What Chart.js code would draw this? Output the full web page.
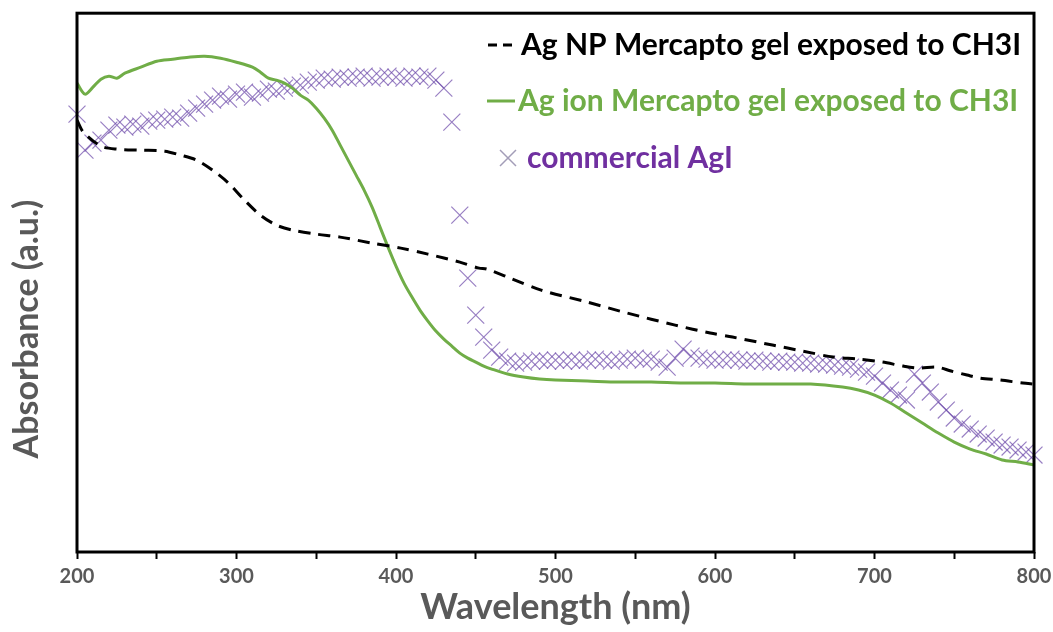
<!DOCTYPE html>
<html>
<head>
<meta charset="utf-8">
<script src="https://cdn.jsdelivr.net/npm/chart.js@4.4.0/dist/chart.umd.min.js"></script>
<style>
  html, body { margin: 0; padding: 0; background: #fff; }
  #wrap { width: 1053px; height: 632px; }
</style>
</head>
<body>
<div id="wrap"><canvas id="absChart"></canvas></div>
<script>
// absorbance in arbitrary units
const npWavelength = [200, 204, 215, 225, 240, 255, 265, 275, 285, 295, 305, 315, 325, 335, 350, 365, 385, 403, 420, 440, 452, 457, 470, 491, 520, 545, 575, 597, 611, 636, 655, 674, 690, 705, 718, 728, 739, 748, 758, 766, 779, 793, 800];
const npAbsorbance = [432, 420, 406, 403, 402, 401, 397, 392, 382, 369, 352, 337, 327, 322, 318, 315, 309, 304, 298, 290, 284, 283, 275, 262, 250, 239, 227, 219, 215, 207, 201, 195, 193, 190, 186, 184, 185, 181, 177, 174, 172, 169, 168];

const ionWavelength = [200, 205, 210, 215, 220, 225, 230, 240, 250, 260, 270, 280, 290, 300, 310, 315, 320, 325, 330, 335, 340, 345, 350, 355, 360, 365, 370, 375, 380, 385, 390, 395, 400, 405, 410, 415, 420, 425, 430, 435, 440, 445, 450, 455, 460, 470, 480, 490, 500, 520, 540, 560, 580, 600, 620, 640, 660, 680, 690, 700, 710, 720, 730, 740, 750, 760, 770, 780, 790, 800];
const ionAbsorbance = [469, 458, 465, 473, 476, 474, 479, 485, 491, 493, 495, 496, 494, 490, 485, 480, 474, 472, 469, 464, 457, 452, 444, 434, 422, 407, 392, 377, 362, 345, 325, 305, 286, 269, 255, 242, 231, 221, 213, 206, 199, 194, 190, 186, 183, 178, 175, 173, 172, 171, 170, 170, 169, 169, 168, 168, 168, 165, 162, 157, 149, 139, 129, 119, 110, 103, 98, 92, 90, 87];

const agiWavelength = [200, 205, 210, 215, 220, 225, 230, 235, 240, 245, 250, 255, 260, 265, 270, 275, 280, 285, 290, 295, 300, 305, 310, 315, 320, 325, 330, 335, 340, 345, 350, 355, 360, 365, 370, 375, 380, 385, 390, 395, 400, 405, 410, 415, 420, 425, 430, 435, 440, 445, 450, 455, 460, 465, 470, 475, 480, 485, 490, 495, 500, 505, 510, 515, 520, 525, 530, 535, 540, 545, 550, 555, 560, 565, 570, 575, 580, 585, 590, 595, 600, 605, 610, 615, 620, 625, 630, 635, 640, 645, 650, 655, 660, 665, 670, 675, 680, 685, 690, 695, 700, 705, 710, 715, 720, 725, 730, 735, 740, 745, 750, 755, 760, 765, 770, 775, 780, 785, 790, 795, 800];
const agiAbsorbance = [438, 402, 409, 412, 422, 427, 425, 428, 426, 431, 432, 433, 435, 434, 439, 444, 448, 452, 456, 453, 458, 460, 455, 459, 463, 461, 464, 466, 467, 470, 472, 474, 473, 475, 474, 475, 476, 474, 475, 476, 475, 474, 476, 475, 476, 472, 464, 430, 337, 274, 237, 215, 202, 195, 191, 189, 190, 191, 192, 191, 192, 191, 192, 191, 192, 193, 192, 191, 192, 193, 194, 192, 193, 190, 185, 194, 203, 196, 194, 193, 192, 192, 193, 192, 191, 192, 191, 190, 191, 190, 190, 189, 189, 188, 188, 187, 186, 185, 183, 180, 176, 169, 162, 157, 152, 178, 169, 160, 150, 142, 134, 128, 123, 118, 114, 110, 107, 105, 102, 100, 97];

const seriesLabels = ['Ag NP Mercapto gel exposed to CH3I', 'Ag ion Mercapto gel exposed to CH3I', 'commercial AgI'];
const xTicks = [200, 300, 400, 500, 600, 700, 800];

const GREY = '#595959';
const FONT = 'Lato';

function toPoints(xs, ys) {
  return xs.map((x, i) => ({x: x, y: ys[i]}));
}

// frame, rotated y title and the in-plot legend
const framePlugin = {
  id: 'frame',
  afterDraw(chart) {
    const ctx = chart.ctx;
    const a = chart.chartArea;
    ctx.save();
    ctx.strokeStyle = '#000';
    ctx.lineWidth = 3;
    ctx.strokeRect(a.left, a.top, a.right - a.left, a.bottom - a.top);

    ctx.fillStyle = GREY;
    ctx.font = 'bold 34px ' + FONT;
    ctx.textAlign = 'center';
    ctx.textBaseline = 'middle';
    ctx.translate(27, 329);
    ctx.rotate(-Math.PI / 2);
    ctx.fillText('Absorbance (a.u.)', 0, 0);
    ctx.restore();

    ctx.save();
    ctx.font = 'bold 30px ' + FONT;
    ctx.textBaseline = 'middle';
    ctx.textAlign = 'left';
    const rows = [{y: 45, tx: 521}, {y: 101, tx: 518}, {y: 158, tx: 527}];
    chart.data.datasets.forEach((ds, i) => {
      const r = rows[i];
      if (i === 0) {
        ctx.strokeStyle = '#000';
        ctx.lineWidth = 3;
        ctx.beginPath();
        ctx.moveTo(488, r.y); ctx.lineTo(497, r.y);
        ctx.moveTo(503, r.y); ctx.lineTo(512, r.y);
        ctx.stroke();
        ctx.fillStyle = '#000';
      } else if (i === 1) {
        ctx.strokeStyle = ds.borderColor;
        ctx.lineWidth = 3;
        ctx.beginPath();
        ctx.moveTo(487, r.y); ctx.lineTo(515, r.y);
        ctx.stroke();
        ctx.fillStyle = ds.borderColor;
      } else {
        ctx.strokeStyle = '#a39db8';
        ctx.lineWidth = 1.5;
        ctx.beginPath();
        ctx.moveTo(500, r.y - 8); ctx.lineTo(516, r.y + 8);
        ctx.moveTo(516, r.y - 8); ctx.lineTo(500, r.y + 8);
        ctx.stroke();
        ctx.fillStyle = '#7030a0';
      }
      ctx.fillText(ds.label, r.tx, r.y);
    });
    ctx.restore();
  }
};

new Chart(document.getElementById('absChart'), {
  type: 'line',
  data: {
    datasets: [{
      label: seriesLabels[0],
      data: toPoints(npWavelength, npAbsorbance),
      borderColor: '#000',
      borderWidth: 3,
      borderDash: [12, 8],
      pointRadius: 0,
      tension: 0.3,
      fill: false
    }, {
      label: seriesLabels[1],
      data: toPoints(ionWavelength, ionAbsorbance),
      borderColor: '#70ad47',
      borderWidth: 3,
      pointRadius: 0,
      tension: 0.3,
      fill: false
    }, {
      label: seriesLabels[2],
      data: toPoints(agiWavelength, agiAbsorbance),
      showLine: false,
      pointStyle: 'crossRot',
      pointRadius: 12,
      pointBorderWidth: 1.2,
      pointBorderColor: 'rgba(108, 72, 170, 0.7)',
      borderColor: 'rgba(108, 72, 170, 0.7)',
      clip: false
    }]
  },
  options: {
    responsive: true,
    maintainAspectRatio: false,
    animation: false,
    layout: { padding: { top: 13, right: 19, left: 0, bottom: 0 } },
    plugins: {
      legend: { display: false },
      tooltip: { enabled: false }
    },
    scales: {
      x: {
        type: 'linear',
        min: 200,
        max: 800,
        afterFit: (s) => { s.height = 80; s.paddingLeft = 0; s.paddingRight = 0; },
        border: { display: false },
        grid: {
          drawOnChartArea: false,
          drawTicks: true,
          tickLength: 7,
          tickWidth: 2,
          tickColor: '#000'
        },
        ticks: {
          stepSize: 50,
          maxRotation: 0,
          autoSkip: false,
          padding: 6,
          color: GREY,
          font: { family: FONT, size: 20, weight: 'bold' },
          callback: (v) => xTicks.includes(v) ? String(v) : ''
        },
        title: {
          display: true,
          text: 'Wavelength (nm)',
          color: GREY,
          font: { family: FONT, size: 36, weight: 'bold' },
          padding: { top: 0, bottom: 3 }
        }
      },
      y: {
        min: 0,
        max: 539,
        afterFit: (s) => { s.width = 77; },
        border: { display: false },
        grid: { display: false },
        ticks: { display: false }
      }
    }
  },
  plugins: [framePlugin]
});
</script>
</body>
</html>
